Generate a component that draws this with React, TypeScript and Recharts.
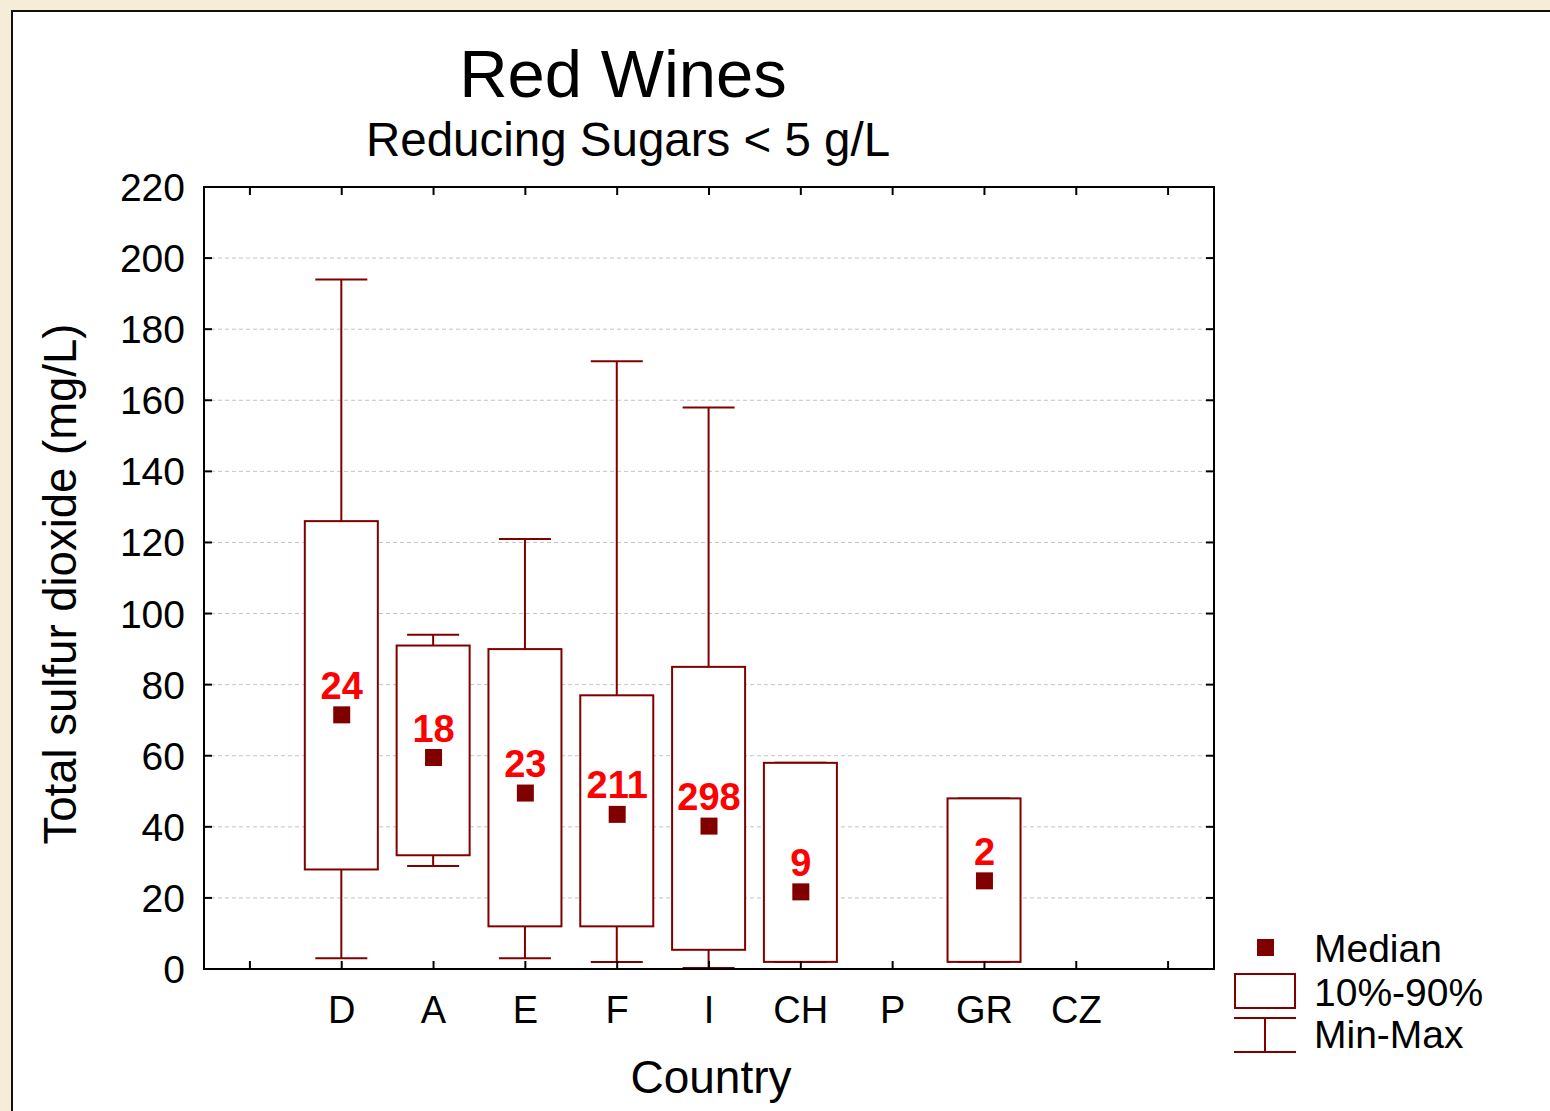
import React from 'react';
import {
  ComposedChart,
  Bar,
  Scatter,
  XAxis,
  YAxis,
  CartesianGrid,
  ReferenceArea
} from 'recharts';

// Country categories; the two pad slots are empty tick positions at both ends
const countries = ['padL', 'D', 'A', 'E', 'F', 'I', 'CH', 'P', 'GR', 'CZ', 'padR'];
const minValues = [null, 3, 29, 3, 2, 0.3, 2, null, 2, null, null];
const maxValues = [null, 194, 94, 121, 171, 158, 58, null, 48, null, null];
const p10Values = [null, 28, 32, 12, 12, 5.4, 2, null, 2, null, null];
const p90Values = [null, 126, 91, 90, 77, 85, 58, null, 48, null, null];
const medianValues = [null, 71.5, 59.5, 49.5, 43.5, 40.2, 21.7, null, 24.8, null, null];
const sampleCounts = [null, 24, 18, 23, 211, 298, 9, null, 2, null, null];
const yTicks = [0, 20, 40, 60, 80, 100, 120, 140, 160, 180, 200, 220];

const data = countries.map((country, i) => ({
  country,
  minMax: minValues[i] != null ? [minValues[i], maxValues[i]] : null,
  box: p10Values[i] != null ? [p10Values[i], p90Values[i]] : null,
  median: medianValues[i],
  n: sampleCounts[i]
}));

const DARK_RED = '#800000';
const FONT = '"Liberation Sans", Arial, sans-serif';
const PLOT_TOP = 187;
const PLOT_RIGHT = 1214;

const WhiskerShape = (props: any) => {
  const { x, y, width, height, payload } = props;
  if (!payload || !payload.minMax || isNaN(y) || isNaN(height)) return <g />;
  const top = Math.min(y, y + height);
  const bottom = Math.max(y, y + height);
  const cx = x + width / 2;
  const cap = 26;
  return (
    <g stroke={DARK_RED} strokeWidth={2}>
      <line x1={cx} y1={top} x2={cx} y2={bottom} />
      <line x1={cx - cap} y1={top} x2={cx + cap} y2={top} />
      <line x1={cx - cap} y1={bottom} x2={cx + cap} y2={bottom} />
    </g>
  );
};

const BoxShape = (props: any) => {
  const { x, y, width, height, payload } = props;
  if (!payload || !payload.box || isNaN(y) || isNaN(height)) return <g />;
  const top = Math.min(y, y + height);
  const h = Math.abs(height);
  return <rect x={x} y={top} width={width} height={h} fill="#fff" stroke={DARK_RED} strokeWidth={2} />;
};

const MedianShape = (props: any) => {
  const { cx, cy, payload } = props;
  if (!payload || payload.median == null || isNaN(cy)) return <g />;
  return (
    <g>
      <rect x={cx - 8.5} y={cy - 8.5} width={17} height={17} fill={DARK_RED} />
      <text x={cx} y={cy - 16} textAnchor="middle" fill="#ff0000" fontSize={38} fontWeight="bold" fontFamily={FONT}>
        {payload.n}
      </text>
    </g>
  );
};

const XTick = (props: any) => {
  const { x, y, payload } = props;
  const label = payload.value.startsWith('pad') ? '' : payload.value;
  return (
    <g>
      <line x1={x} y1={y} x2={x} y2={y - 8} stroke="#000" strokeWidth={2} />
      <line x1={x} y1={PLOT_TOP} x2={x} y2={PLOT_TOP + 8} stroke="#000" strokeWidth={2} />
      <text x={x} y={y + 54} textAnchor="middle" fontSize={38} fontFamily={FONT} fill="#000">
        {label}
      </text>
    </g>
  );
};

const YTick = (props: any) => {
  const { x, y, payload } = props;
  return (
    <g>
      <line x1={x} y1={y} x2={x + 8} y2={y} stroke="#000" strokeWidth={2} />
      <line x1={PLOT_RIGHT - 8} y1={y} x2={PLOT_RIGHT} y2={y} stroke="#000" strokeWidth={2} />
      <text x={x - 19} y={y + 14} textAnchor="end" fontSize={39} fontFamily={FONT} fill="#000">
        {payload.value}
      </text>
    </g>
  );
};

export default function App() {
  return (
    <div style={{ position: 'absolute', left: 0, top: 0, width: 1550, height: 1111, background: '#f6edd8', overflow: 'hidden' }}>
      <div style={{ position: 'absolute', left: 11, top: 10, width: 1600, height: 1200, background: '#fff', border: '2px solid #111' }} />
      <div style={{ position: 'absolute', left: 0, top: 0 }}>
        <ComposedChart
          width={1550}
          height={1111}
          data={data}
          margin={{ top: PLOT_TOP, right: 1550 - PLOT_RIGHT, bottom: 82, left: 104 }}
          barSize={73}
          barGap={-73}
        >
          <CartesianGrid horizontal vertical={false} stroke="#c4c4c4" strokeDasharray="4 3" />
          <XAxis
            dataKey="country"
            type="category"
            interval={0}
            height={60}
            tickSize={0}
            tickMargin={0}
            tickLine={false}
            axisLine={{ stroke: '#000', strokeWidth: 2 }}
            tick={<XTick />}
          />
          <YAxis
            type="number"
            domain={[0, 220]}
            ticks={yTicks}
            interval={0}
            width={100}
            tickSize={0}
            tickMargin={0}
            tickLine={false}
            axisLine={{ stroke: '#000', strokeWidth: 2 }}
            tick={<YTick />}
          />
          <ReferenceArea y1={0} y2={220} fill="none" fillOpacity={0} stroke="#000" strokeWidth={2} />
          <Bar dataKey="minMax" shape={<WhiskerShape />} isAnimationActive={false} />
          <Bar dataKey="box" shape={<BoxShape />} isAnimationActive={false} />
          <Scatter dataKey="median" shape={<MedianShape />} isAnimationActive={false} />
        </ComposedChart>
      </div>
      <svg width={1550} height={1111} style={{ position: 'absolute', left: 0, top: 0, pointerEvents: 'none' }}>
        <text x={623} y={97} textAnchor="middle" fontSize={67} fontFamily={FONT} fill="#000">Red Wines</text>
        <text x={628} y={156} textAnchor="middle" fontSize={47.5} fontFamily={FONT} fill="#000">Reducing Sugars &lt; 5 g/L</text>
        <text x={711} y={1093} textAnchor="middle" fontSize={46} fontFamily={FONT} fill="#000">Country</text>
        <text transform="translate(76,584) rotate(-90)" textAnchor="middle" fontSize={45.5} fontFamily={FONT} fill="#000">
          Total sulfur dioxide (mg/L)
        </text>
        {/* Legend */}
        <rect x={1257} y={939} width={17} height={17} fill={DARK_RED} />
        <text x={1314} y={962} fontSize={39} fontFamily={FONT} fill="#000">Median</text>
        <rect x={1235} y={974} width={60} height={34} fill="#fff" stroke={DARK_RED} strokeWidth={2} />
        <text x={1314} y={1006} fontSize={39} fontFamily={FONT} fill="#000">10%-90%</text>
        <g stroke={DARK_RED} strokeWidth={2}>
          <line x1={1234} y1={1018} x2={1296} y2={1018} />
          <line x1={1265} y1={1018} x2={1265} y2={1052} />
          <line x1={1234} y1={1052} x2={1296} y2={1052} />
        </g>
        <text x={1314} y={1048} fontSize={39} fontFamily={FONT} fill="#000">Min-Max</text>
      </svg>
    </div>
  );
}
